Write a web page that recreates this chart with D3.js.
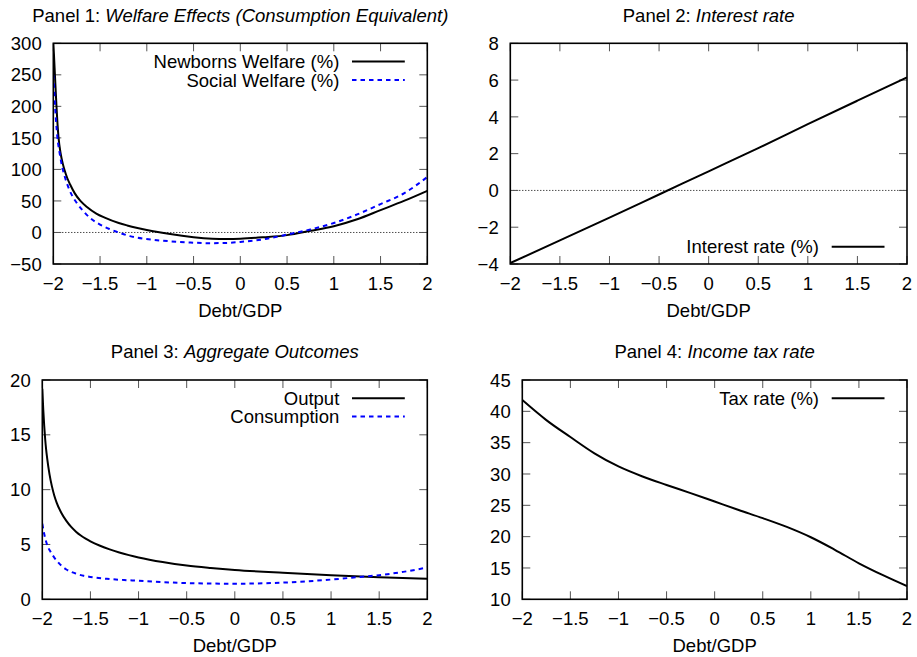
<!DOCTYPE html>
<html>
<head>
<meta charset="utf-8">
<script src="https://cdn.jsdelivr.net/npm/d3@7"></script>
<style>
  html, body { margin: 0; padding: 0; background: #fff; }
  svg { display: block; }
  text { font-family: "Liberation Sans", Arial, Helvetica, sans-serif; fill: #000; }
</style>
</head>
<body>
<svg id="chart" width="917" height="657"></svg>
<script>
// ---------------- DATA ----------------
const xTicks = [-2, -1.5, -1, -0.5, 0, 0.5, 1, 1.5, 2];

// Panel 1: Welfare effects
const newbornsX = [-2, -1.993, -1.982, -1.966, -1.945, -1.92, -1.9, -1.88, -1.85, -1.82, -1.77, -1.71, -1.64, -1.54, -1.45, -1.3, -1.21, -1.1, -1.0, -0.93, -0.75, -0.5, -0.3, -0.15, 0, 0.25, 0.5, 0.75, 1, 1.25, 1.5, 1.75, 2];
const newbornsY = [300, 282, 248, 200, 152, 124, 110, 99, 86, 76, 62, 50, 40.5, 30, 23.5, 15, 11.2, 7.2, 4, 2, -2.6, -7.4, -9.8, -10.4, -10, -7.6, -4.2, 2.6, 10, 21, 35.5, 50, 66];
const socialX = [-2, -1.99, -1.982, -1.957, -1.93, -1.905, -1.88, -1.857, -1.804, -1.75, -1.68, -1.61, -1.5, -1.4, -1.32, -1.18, -1.1, -0.93, -0.75, -0.57, -0.32, -0.15, 0, 0.25, 0.5, 0.75, 1, 1.25, 1.5, 1.75, 2];
const socialY = [250, 226, 203, 152, 124, 104, 90, 79, 60, 47, 34, 23.5, 12.5, 5.5, 1, -5.8, -8.4, -11.7, -14, -15.6, -17, -16.6, -15, -10.8, -3.4, 4.8, 15, 28.6, 45, 62, 88];

// Panel 2: Interest rate
const interestX = [-2, -1.5, -1, -0.5, 0, 0.5, 1, 1.5, 2];
const interestY = [-3.95, -2.72, -1.48, -0.22, 1.04, 2.3, 3.6, 4.88, 6.15];

// Panel 3: Aggregate outcomes
const outputX = [-2, -1.99, -1.98, -1.97, -1.96, -1.95, -1.925, -1.9, -1.875, -1.85, -1.8, -1.75, -1.7, -1.65, -1.6, -1.55, -1.5, -1.4, -1.3, -1.2, -1.1, -1, -0.75, -0.5, -0.25, 0, 0.5, 1, 1.5, 2];
const outputY = [19.2, 17.3, 15.8, 14.6, 13.65, 12.9, 11.4, 10.3, 9.45, 8.8, 7.85, 7.15, 6.6, 6.17, 5.82, 5.53, 5.28, 4.88, 4.55, 4.27, 4.03, 3.82, 3.4, 3.08, 2.86, 2.68, 2.42, 2.2, 2.02, 1.88];
const consumptionX = [-2, -1.98, -1.96, -1.94, -1.92, -1.9, -1.87, -1.84, -1.8, -1.75, -1.7, -1.65, -1.57, -1.5, -1.33, -1.15, -1, -0.85, -0.5, 0, 0.5, 1, 1.3, 1.5, 1.75, 2];
const consumptionY = [6.9, 5.95, 5.25, 4.75, 4.42, 4.12, 3.74, 3.42, 3.05, 2.72, 2.5, 2.34, 2.14, 2.04, 1.87, 1.76, 1.69, 1.61, 1.48, 1.42, 1.52, 1.8, 2.04, 2.2, 2.5, 2.9];

// Panel 4: Income tax rate
const taxX = [-2, -1.75, -1.5, -1.25, -1, -0.75, -0.5, -0.25, 0, 0.25, 0.5, 0.75, 1, 1.25, 1.5, 1.75, 2];
const taxY = [41.8, 38.6, 35.9, 33.3, 31.2, 29.6, 28.25, 26.95, 25.6, 24.25, 22.95, 21.55, 19.9, 17.9, 15.75, 13.85, 12.1];

// Y-axis tick values per panel
const yTicks1 = [-50, 0, 50, 100, 150, 200, 250, 300];
const yTicks2 = [-4, -2, 0, 2, 4, 6, 8];
const yTicks3 = [0, 5, 10, 15, 20];
const yTicks4 = [10, 15, 20, 25, 30, 35, 40, 45];

const xLabel = "Debt/GDP";

// ---------------- DRAWING ----------------
const svg = d3.select("#chart");
const fmt = d3.format("");  // uses U+2212 minus
const FS = 18.5;

const panels = [
  { id: 1, l: 53.3, r: 427.3, t: 43.3, b: 264, yDomain: [-50, 300], yTicks: yTicks1,
    title: ["Panel 1: ", "Welfare Effects (Consumption Equivalent)"], zero: true,
    series: [
      { name: "Newborns Welfare (%)", x: newbornsX, y: newbornsY, color: "#000", dash: null },
      { name: "Social Welfare (%)", x: socialX, y: socialY, color: "#0000ff", dash: "4.5,4" }
    ], legendPos: "top" },
  { id: 2, l: 510.3, r: 907, t: 43.3, b: 264, yDomain: [-4, 8], yTicks: yTicks2,
    title: ["Panel 2: ", "Interest rate"], zero: true,
    series: [
      { name: "Interest rate (%)", x: interestX, y: interestY, color: "#000", dash: null }
    ], legendPos: "bottom" },
  { id: 3, l: 42.3, r: 427.3, t: 380, b: 599.3, yDomain: [0, 20], yTicks: yTicks3,
    title: ["Panel 3: ", "Aggregate Outcomes"], zero: false,
    series: [
      { name: "Output", x: outputX, y: outputY, color: "#000", dash: null },
      { name: "Consumption", x: consumptionX, y: consumptionY, color: "#0000ff", dash: "4.5,4" }
    ], legendPos: "top" },
  { id: 4, l: 522.3, r: 907, t: 380, b: 599.3, yDomain: [10, 45], yTicks: yTicks4,
    title: ["Panel 4: ", "Income tax rate"], zero: false,
    series: [
      { name: "Tax rate (%)", x: taxX, y: taxY, color: "#000", dash: null }
    ], legendPos: "top" }
];

panels.forEach(p => {
  const g = svg.append("g");
  const x = d3.scaleLinear().domain([-2, 2]).range([p.l, p.r]);
  const y = d3.scaleLinear().domain(p.yDomain).range([p.b, p.t]);
  const tick = 8;

  const clipId = "clip" + p.id;
  svg.append("clipPath").attr("id", clipId)
    .append("rect").attr("x", p.l).attr("y", p.t).attr("width", p.r - p.l).attr("height", p.b - p.t);

  if (p.zero) {
    g.append("line")
      .attr("x1", p.l).attr("x2", p.r).attr("y1", y(0)).attr("y2", y(0))
      .attr("stroke", "#000").attr("stroke-width", 1).attr("stroke-dasharray", "1,2");
  }

  const tg = g.append("g").attr("stroke", "#555").attr("stroke-width", 1);
  xTicks.forEach(v => {
    tg.append("line").attr("x1", x(v)).attr("x2", x(v)).attr("y1", p.b).attr("y2", p.b - tick);
    tg.append("line").attr("x1", x(v)).attr("x2", x(v)).attr("y1", p.t).attr("y2", p.t + tick);
  });
  p.yTicks.forEach(v => {
    tg.append("line").attr("x1", p.l).attr("x2", p.l + tick).attr("y1", y(v)).attr("y2", y(v));
    tg.append("line").attr("x1", p.r).attr("x2", p.r - tick).attr("y1", y(v)).attr("y2", y(v));
  });

  xTicks.forEach(v => {
    g.append("text").attr("x", x(v)).attr("y", p.b + 26).attr("text-anchor", "middle")
      .attr("font-size", FS).text(fmt(v));
  });
  p.yTicks.forEach(v => {
    g.append("text").attr("x", p.l - 11.6).attr("y", y(v)).attr("dy", "0.36em")
      .attr("text-anchor", "end").attr("font-size", FS).text(fmt(v));
  });

  g.append("text").attr("x", (p.l + p.r) / 2).attr("y", p.b + 52.7).attr("text-anchor", "middle")
    .attr("font-size", FS).text(xLabel);

  const tt = g.append("text").attr("x", (p.l + p.r) / 2).attr("y", p.t - 21.6)
    .attr("text-anchor", "middle").attr("font-size", FS);
  tt.append("tspan").text(p.title[0]);
  tt.append("tspan").attr("font-style", "italic").text(p.title[1]);

  const lg = g.append("g").attr("clip-path", `url(#${clipId})`);
  p.series.forEach(s => {
    const pts = s.x.map((xv, i) => [xv, s.y[i]]);
    const line = d3.line().x(d => x(d[0])).y(d => y(d[1])).curve(d3.curveMonotoneX);
    lg.append("path").datum(pts).attr("d", line)
      .attr("fill", "none").attr("stroke", s.color).attr("stroke-width", 2)
      .attr("stroke-dasharray", s.dash);
  });

  p.series.forEach((s, i) => {
    const ly = p.legendPos === "top" ? p.t + 18.2 + i * 18.4 : p.b - 17.3;
    g.append("text").attr("x", p.r - 88).attr("y", ly).attr("dy", "0.36em")
      .attr("text-anchor", "end").attr("font-size", FS).text(s.name);
    g.append("line").attr("x1", p.r - 75.3).attr("x2", p.r - 22.5).attr("y1", ly).attr("y2", ly)
      .attr("stroke", s.color).attr("stroke-width", 2).attr("stroke-dasharray", s.dash);
  });

  g.append("rect").attr("x", p.l).attr("y", p.t).attr("width", p.r - p.l).attr("height", p.b - p.t)
    .attr("fill", "none").attr("stroke", "#000").attr("stroke-width", 1.6);
});
</script>
</body>
</html>
